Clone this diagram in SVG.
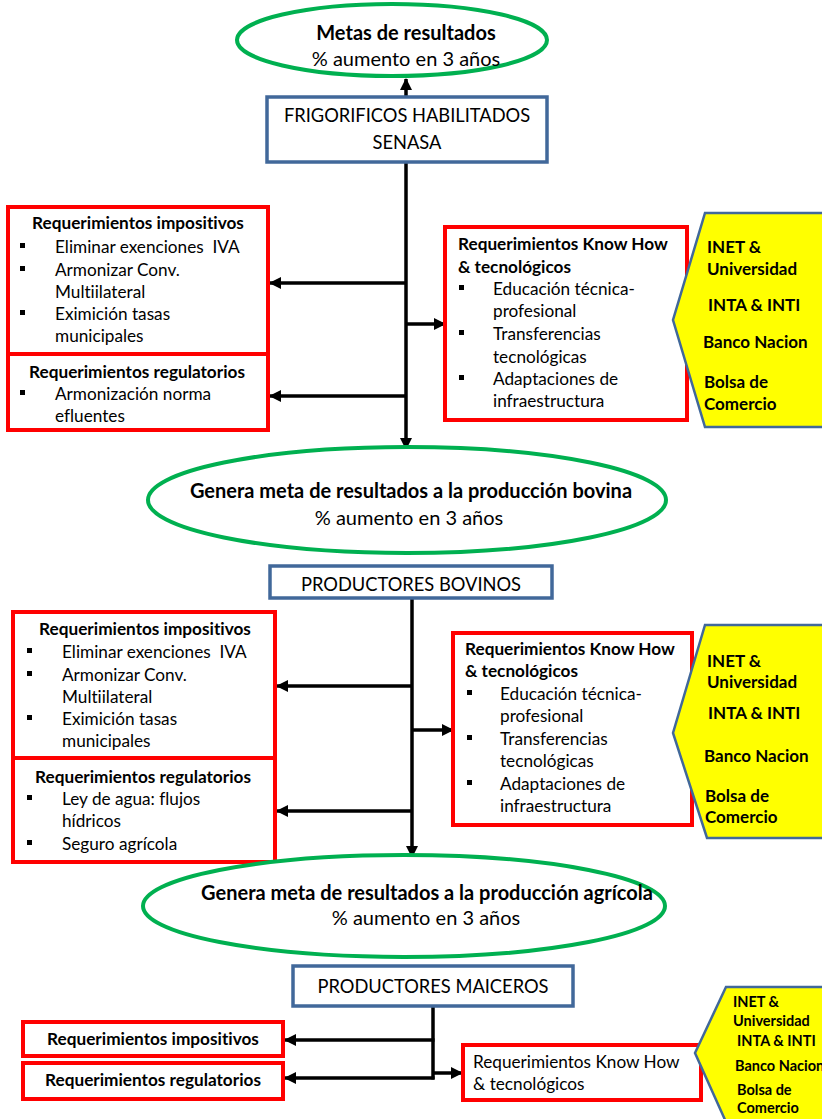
<svg xmlns="http://www.w3.org/2000/svg" width="822" height="1119" viewBox="0 0 822 1119">
<defs>
<style>
text{font-family:Lato,"Open Sans","Liberation Sans",sans-serif;fill:#000;font-variant-ligatures:none}
.t{font-size:17.2px}
.b{font-size:17.2px;font-weight:bold}
.bt{font-size:20px;font-weight:bold}
.pct{font-size:20px}
.lbl{font-size:18.3px}
.c{text-anchor:middle}
.y{font-size:17px;font-weight:bold}
.ys{font-size:14.5px;font-weight:bold}
.ell{fill:#fff;stroke:#00B050;stroke-width:4}
.blue{fill:#fff;stroke:#41689A;stroke-width:3.5}
.red{fill:#fff;stroke:#FF0000;stroke-width:4}
.yel{fill:#FFFF00;stroke:#41689A;stroke-width:2.5}
.con{stroke:#000;stroke-width:3.5;fill:none}
.arr{marker-end:url(#ah)}
.bul{fill:#000}
</style>
<marker id="ah" markerUnits="userSpaceOnUse" viewBox="0 0 12 12" refX="11" refY="6" markerWidth="12" markerHeight="12" orient="auto">
<path d="M0,0 L12,6 L0,12 Z" fill="#000"/>
</marker>
<rect id="sq" width="5" height="5" class="bul"/>
</defs>
<rect width="822" height="1119" fill="#fff"/>

<g id="connectors">
<line class="con arr" x1="406" y1="97" x2="406" y2="79"/>
<line class="con arr" x1="406" y1="162" x2="406" y2="449"/>
<line class="con arr" x1="407" y1="283" x2="270" y2="283"/>
<line class="con arr" x1="407" y1="396" x2="270" y2="396"/>
<line class="con arr" x1="405" y1="324" x2="445" y2="324"/>
<line class="con arr" x1="412" y1="598" x2="412" y2="857"/>
<line class="con arr" x1="413" y1="686" x2="277" y2="686"/>
<line class="con arr" x1="413" y1="811" x2="277" y2="811"/>
<line class="con arr" x1="411" y1="730" x2="453" y2="730"/>
<line class="con" x1="433" y1="1006" x2="433" y2="1079.5"/>
<line class="con arr" x1="434.5" y1="1040" x2="285" y2="1040"/>
<line class="con arr" x1="434.5" y1="1078" x2="285" y2="1078"/>
<line class="con arr" x1="432" y1="1073" x2="462" y2="1073"/>
</g>

<g id="meta1">
<ellipse class="ell" cx="392" cy="40" rx="155" ry="36"/>
<text class="bt c" x="406" y="40">Metas de resultados</text>
<text class="pct c" x="406" y="66">% aumento en 3 años</text>
</g>

<g id="frigorificos">
<rect class="blue" x="267" y="97" width="280" height="65"/>
<text class="lbl c" x="407" y="122">FRIGORIFICOS HABILITADOS</text>
<text class="lbl c" x="407" y="149">SENASA</text>
</g>

<g id="imp1">
<rect class="red" x="8" y="207" width="260" height="147"/>
<text class="b c" x="138" y="229">Requerimientos impositivos</text>
<use href="#sq" x="20" y="243"/>
<text class="t" x="55" y="253">Eliminar exenciones&#160; IVA</text>
<use href="#sq" x="20" y="266"/>
<text class="t" x="55" y="276">Armonizar Conv.</text>
<text class="t" x="55" y="298">Multiilateral</text>
<use href="#sq" x="20" y="310"/>
<text class="t" x="55" y="320">Eximición tasas</text>
<text class="t" x="55" y="342">municipales</text>
</g>

<g id="reg1">
<rect class="red" x="8" y="354" width="260" height="76"/>
<text class="b c" x="137" y="378">Requerimientos regulatorios</text>
<use href="#sq" x="20" y="390"/>
<text class="t" x="55" y="400">Armonización norma</text>
<text class="t" x="55" y="422">efluentes</text>
</g>

<g id="know1">
<rect class="red" x="445" y="227" width="242" height="193"/>
<text class="b" x="458" y="250">Requerimientos Know How</text>
<text class="b" x="458" y="273">&amp; tecnológicos</text>
<use href="#sq" x="459" y="285"/>
<text class="t" x="493" y="295">Educación técnica-</text>
<text class="t" x="493" y="317">profesional</text>
<use href="#sq" x="459" y="330"/>
<text class="t" x="493" y="340">Transferencias</text>
<text class="t" x="493" y="363">tecnológicas</text>
<use href="#sq" x="459" y="375"/>
<text class="t" x="493" y="385">Adaptaciones de</text>
<text class="t" x="493" y="407">infraestructura</text>
</g>

<g id="inst1">
<polygon class="yel" points="705,213 826,213 826,427 705,427 673,320"/>
<text class="y" x="707" y="253">INET &amp;</text>
<text class="y" x="707" y="275">Universidad</text>
<text class="y" x="708" y="311">INTA &amp; INTI</text>
<text class="y" x="703" y="348">Banco Nacion</text>
<text class="y" x="704" y="388">Bolsa de</text>
<text class="y" x="704" y="410">Comercio</text>
</g>

<g id="meta2">
<ellipse class="ell" cx="407" cy="500" rx="259" ry="53"/>
<text class="bt c" x="411" y="498">Genera meta de resultados a la producción bovina</text>
<text class="pct c" x="409" y="525">% aumento en 3 años</text>
</g>

<g id="bovinos">
<rect class="blue" x="270" y="566" width="282" height="32"/>
<text class="lbl c" x="411" y="591">PRODUCTORES BOVINOS</text>
</g>

<g id="imp2">
<rect class="red" x="13" y="612" width="262" height="146"/>
<text class="b c" x="145" y="635">Requerimientos impositivos</text>
<use href="#sq" x="27" y="648"/>
<text class="t" x="62" y="658">Eliminar exenciones&#160; IVA</text>
<use href="#sq" x="27" y="671"/>
<text class="t" x="62" y="681">Armonizar Conv.</text>
<text class="t" x="62" y="703">Multiilateral</text>
<use href="#sq" x="27" y="715"/>
<text class="t" x="62" y="725">Eximición tasas</text>
<text class="t" x="62" y="747">municipales</text>
</g>

<g id="reg2">
<rect class="red" x="13" y="758" width="262" height="104"/>
<text class="b c" x="143" y="783">Requerimientos regulatorios</text>
<use href="#sq" x="27" y="795"/>
<text class="t" x="62" y="805">Ley de agua: flujos</text>
<text class="t" x="62" y="827">hídricos</text>
<use href="#sq" x="27" y="840"/>
<text class="t" x="62" y="850">Seguro agrícola</text>
</g>

<g id="know2">
<rect class="red" x="453" y="633" width="239" height="192"/>
<text class="b" x="465" y="655">Requerimientos Know How</text>
<text class="b" x="465" y="677">&amp; tecnológicos</text>
<use href="#sq" x="467" y="690"/>
<text class="t" x="500" y="700">Educación técnica-</text>
<text class="t" x="500" y="722">profesional</text>
<use href="#sq" x="467" y="735"/>
<text class="t" x="500" y="745">Transferencias</text>
<text class="t" x="500" y="767">tecnológicas</text>
<use href="#sq" x="467" y="780"/>
<text class="t" x="500" y="790">Adaptaciones de</text>
<text class="t" x="500" y="812">infraestructura</text>
</g>

<g id="inst2">
<polygon class="yel" points="705,625 826,625 826,838 707,838 673,733"/>
<text class="y" x="707" y="667">INET &amp;</text>
<text class="y" x="707" y="688">Universidad</text>
<text class="y" x="708" y="719">INTA &amp; INTI</text>
<text class="y" x="704" y="762">Banco Nacion</text>
<text class="y" x="705" y="802">Bolsa de</text>
<text class="y" x="705" y="823">Comercio</text>
</g>

<g id="meta3">
<ellipse class="ell" cx="404" cy="906" rx="261" ry="51"/>
<text class="bt c" x="427" y="900">Genera meta de resultados a la producción agrícola</text>
<text class="pct c" x="426" y="925">% aumento en 3 años</text>
</g>

<g id="maiceros">
<rect class="blue" x="293" y="966" width="280" height="40"/>
<text class="lbl c" x="433" y="993">PRODUCTORES MAICEROS</text>
</g>

<g id="imp3">
<rect class="red" x="23" y="1022" width="260" height="34"/>
<text class="b c" x="153" y="1045">Requerimientos impositivos</text>
</g>

<g id="reg3">
<rect class="red" x="23" y="1063" width="260" height="36"/>
<text class="b c" x="153" y="1086">Requerimientos regulatorios</text>
</g>

<g id="know3">
<rect class="red" x="463" y="1045" width="238" height="55"/>
<text class="t" x="473" y="1068">Requerimientos Know How</text>
<text class="t" x="473" y="1090">&amp; tecnológicos</text>
</g>

<g id="inst3">
<polygon class="yel" points="726,987 826,987 826,1122 726,1122 695,1053"/>
<text class="ys" x="733" y="1007">INET &amp;</text>
<text class="ys" x="733" y="1026">Universidad</text>
<text class="ys" x="737" y="1046">INTA &amp; INTI</text>
<text class="ys" x="735" y="1071">Banco Nacion</text>
<text class="ys" x="737" y="1095">Bolsa de</text>
<text class="ys" x="737" y="1113">Comercio</text>
</g>
</svg>
